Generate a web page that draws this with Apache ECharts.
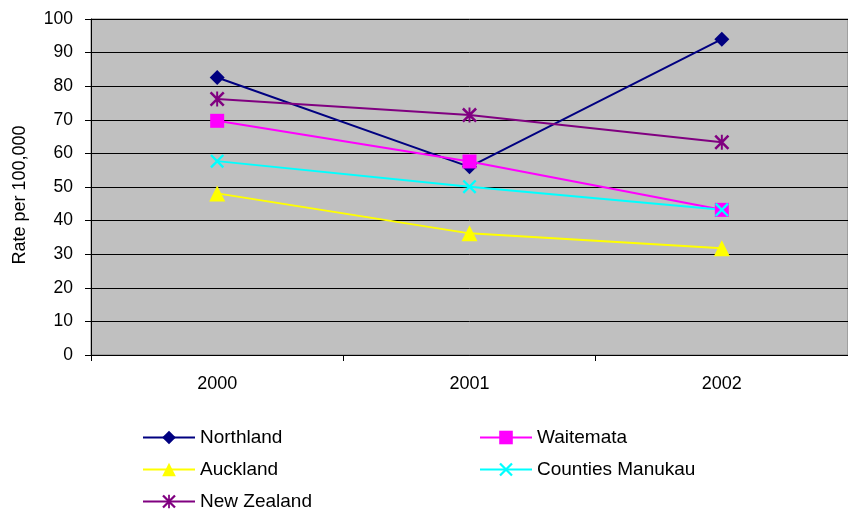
<!DOCTYPE html>
<html>
<head>
<meta charset="utf-8">
<script src="https://cdn.jsdelivr.net/npm/echarts@6/dist/echarts.min.js"></script>
<style>
  html, body { margin: 0; padding: 0; background: #ffffff; }
  #chart { width: 848px; height: 514px; }
</style>
</head>
<body>
<div id="chart"></div>
<script>
// Rate per 100,000 by district health board, 2000–2002
const years = ['2000', '2001', '2002'];
const northland = [82.6, 56.0, 94.0];
const waitemata = [69.7, 57.6, 43.2];
const auckland = [48.1, 36.2, 31.8];
const countiesManukau = [57.7, 50.1, 43.2];
const newZealand = [76.2, 71.4, 63.3];

// Marker shapes drawn as filled paths
const crossPath = 'path://M0,1.2 L1.2,0 L10,8.8 L8.8,10 Z M8.8,0 L10,1.2 L1.2,10 L0,8.8 Z';
const starPath = 'path://M0,1.2 L1.2,0 L10,8.8 L8.8,10 Z M8.8,0 L10,1.2 L1.2,10 L0,8.8 Z M4.35,0 L5.65,0 L5.65,10 L4.35,10 Z';

const font = 'Liberation Sans, Arial, sans-serif';

function line(name, data, color, symbol, size) {
  return {
    name: name,
    type: 'line',
    data: data,
    symbol: symbol,
    symbolSize: size,
    showAllSymbol: true,
    lineStyle: { color: color, width: 2 },
    itemStyle: { color: color, borderWidth: 0 },
    emphasis: { disabled: true },
    animation: false
  };
}

// One legend entry per block, laid out in two columns
function legendItem(name, left, top) {
  return {
    data: [name],
    left: left, top: top,
    padding: 0,
    itemWidth: 52, itemHeight: 17,
    lineStyle: { width: 2 },
    textStyle: { fontFamily: font, fontSize: 19, color: '#000', padding: [0, 0, 0, 0] }
  };
}

const chart = echarts.init(document.getElementById('chart'), null, { renderer: 'canvas' });
chart.setOption({
  backgroundColor: '#ffffff',
  animation: false,
  grid: {
    left: 91, right: 0, top: 19, bottom: 159,
    show: true,
    backgroundColor: '#c0c0c0',
    borderColor: '#808080',
    borderWidth: 1
  },
  legend: [
    legendItem('Northland', 142, 428),
    legendItem('Auckland', 142, 460),
    legendItem('New Zealand', 142, 492),
    legendItem('Waitemata', 479, 428),
    legendItem('Counties Manukau', 479, 460)
  ],
  xAxis: {
    type: 'category',
    data: years,
    boundaryGap: true,
    axisLine: { lineStyle: { color: '#000', width: 1 } },
    axisTick: { show: true, length: 6, lineStyle: { color: '#000' } },
    axisLabel: { fontFamily: font, fontSize: 18, color: '#000', margin: 20 },
    splitLine: { show: false }
  },
  yAxis: {
    type: 'value',
    min: 0, max: 100, interval: 10,
    name: 'Rate per 100,000',
    nameLocation: 'middle',
    nameGap: 62,
    nameTextStyle: { fontFamily: font, fontSize: 18, color: '#000', padding: [0, 16, 0, 0] },
    axisLine: { show: true, lineStyle: { color: '#000', width: 1 } },
    axisTick: { show: true, length: 6, lineStyle: { color: '#000' } },
    axisLabel: { fontFamily: font, fontSize: 17.5, color: '#000', margin: 18 },
    splitLine: { show: true, lineStyle: { color: '#000', width: 1 } }
  },
  series: [
    line('Northland', northland, '#000080', 'diamond', 15),
    line('Waitemata', waitemata, '#ff00ff', 'rect', 14),
    line('Auckland', auckland, '#ffff00', 'triangle', 16),
    line('Counties Manukau', countiesManukau, '#00ffff', crossPath, 14),
    line('New Zealand', newZealand, '#800080', starPath, 15)
  ]
});
</script>
</body>
</html>
